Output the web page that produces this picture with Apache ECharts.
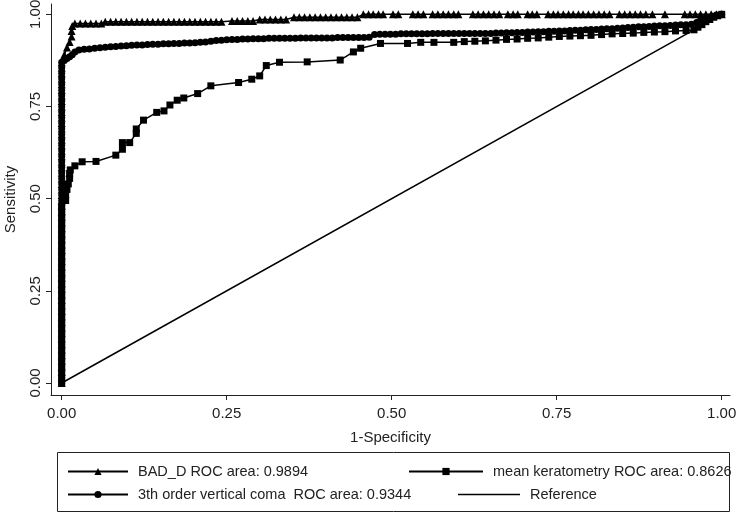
<!DOCTYPE html>
<html>
<head>
<meta charset="utf-8">
<script src="https://cdn.jsdelivr.net/npm/echarts@6/dist/echarts.min.js"></script>
<style>html,body{margin:0;padding:0;background:#fff}#c{width:737px;height:515px}</style>
</head>
<body>
<div id="c"></div>
<script>
// ---- data (1-Specificity, Sensitivity) ----
const tickValues = [0, 0.25, 0.5, 0.75, 1];
const seriesNames = [
  'BAD_D ROC area: 0.9894',
  '3th order vertical coma  ROC area: 0.9344',
  'mean keratometry ROC area: 0.8626',
  'Reference'
];
const badD = [
 [0,0],[0,0.015],[0,0.03],[0,0.045],[0,0.06],[0,0.075],[0,0.09],[0,0.105],[0,0.12],[0,0.135],[0,0.15],[0,0.165],[0,0.18],[0,0.195],[0,0.21],[0,0.225],[0,0.24],[0,0.255],[0,0.27],[0,0.285],[0,0.30],[0,0.315],[0,0.33],[0,0.345],[0,0.36],[0,0.375],[0,0.39],[0,0.405],[0,0.42],[0,0.435],[0,0.45],[0,0.465],[0,0.48],[0,0.495],[0,0.51],[0,0.525],[0,0.54],[0,0.555],[0,0.57],[0,0.585],[0,0.60],[0,0.615],[0,0.63],[0,0.645],[0,0.66],[0,0.675],[0,0.69],[0,0.705],[0,0.72],[0,0.735],[0,0.75],[0,0.765],[0,0.78],[0,0.795],[0,0.81],[0,0.825],[0,0.84],[0,0.855],[0,0.87],
 [0.004,0.89],[0.008,0.91],[0.012,0.925],[0.015,0.94],[0.015,0.955],[0.016,0.968],[0.020,0.975],
 [0.028,0.975],[0.036,0.975],[0.044,0.975],[0.052,0.975],[0.060,0.975],
 [0.066,0.980],[0.074,0.980],[0.082,0.980],[0.090,0.980],[0.098,0.980],[0.106,0.980],[0.114,0.980],[0.122,0.980],[0.130,0.980],[0.138,0.980],[0.146,0.980],[0.154,0.980],[0.162,0.980],[0.170,0.980],[0.178,0.980],[0.186,0.980],[0.194,0.980],[0.202,0.980],[0.210,0.980],[0.218,0.980],[0.226,0.980],[0.234,0.980],[0.242,0.980],
 [0.258,0.982],[0.266,0.982],[0.274,0.982],[0.282,0.982],[0.290,0.982],
 [0.300,0.986],[0.308,0.986],[0.316,0.986],[0.324,0.986],[0.332,0.986],[0.340,0.986],
 [0.352,0.992],[0.360,0.992],[0.368,0.992],[0.376,0.992],[0.384,0.992],[0.392,0.992],[0.400,0.992],[0.408,0.992],[0.416,0.992],[0.424,0.992],[0.432,0.992],[0.440,0.992],[0.448,0.992],
 [0.457,1],[0.465,1],[0.472,1],[0.480,1],[0.487,1],[0.502,1],[0.510,1],[0.532,1],[0.540,1],[0.548,1],[0.562,1],[0.570,1],[0.578,1],[0.586,1],[0.594,1],[0.601,1],[0.623,1],[0.631,1],[0.639,1],[0.647,1],[0.655,1],[0.663,1],[0.676,1],[0.684,1],[0.691,1],[0.706,1],[0.713,1],[0.720,1],[0.737,1],[0.745,1],[0.752,1],[0.760,1],[0.768,1],[0.775,1],[0.783,1],[0.790,1],[0.798,1],[0.806,1],[0.814,1],[0.822,1],[0.830,1],[0.845,1],[0.853,1],[0.861,1],[0.869,1],[0.877,1],[0.885,1],[0.895,1],[0.914,1],[0.944,1],[0.952,1],[0.960,1],[0.968,1],[0.976,1],[0.984,1],[0.992,1],[1,1]
];
const coma = [
 [0,0],[0,0.015],[0,0.03],[0,0.045],[0,0.06],[0,0.075],[0,0.09],[0,0.105],[0,0.12],[0,0.135],[0,0.15],[0,0.165],[0,0.18],[0,0.195],[0,0.21],[0,0.225],[0,0.24],[0,0.255],[0,0.27],[0,0.285],[0,0.30],[0,0.315],[0,0.33],[0,0.345],[0,0.36],[0,0.375],[0,0.39],[0,0.405],[0,0.42],[0,0.435],[0,0.45],[0,0.465],[0,0.48],[0,0.495],[0,0.51],[0,0.525],[0,0.54],[0,0.555],[0,0.57],[0,0.585],[0,0.60],[0,0.615],[0,0.63],[0,0.645],[0,0.66],[0,0.675],[0,0.69],[0,0.705],[0,0.72],[0,0.735],[0,0.75],[0,0.765],[0,0.78],[0,0.795],[0,0.81],[0,0.825],[0,0.84],[0,0.855],[0,0.87],
 [0.004,0.875],[0.008,0.88],[0.012,0.885],[0.016,0.89],[0.020,0.898],[0.026,0.903],[0.034,0.905],[0.042,0.906],[0.050,0.908],[0.058,0.909],[0.066,0.911],[0.074,0.912],[0.082,0.913],[0.090,0.914],[0.098,0.915],[0.106,0.916],[0.114,0.917],[0.122,0.917],[0.130,0.918],[0.138,0.919],[0.146,0.919],[0.154,0.920],[0.162,0.920],[0.170,0.921],[0.178,0.921],[0.186,0.922],[0.194,0.922],[0.202,0.923],[0.210,0.924],[0.218,0.925],[0.226,0.927],[0.234,0.929],[0.242,0.930],[0.250,0.931],[0.258,0.932],[0.266,0.932],[0.274,0.933],[0.282,0.933],[0.290,0.934],[0.298,0.934],[0.306,0.934],[0.314,0.935],[0.322,0.935],[0.330,0.935],[0.338,0.935],[0.346,0.935],[0.354,0.935],[0.362,0.936],[0.370,0.936],[0.378,0.936],[0.386,0.936],[0.394,0.936],[0.402,0.936],[0.410,0.936],[0.418,0.937],[0.426,0.937],[0.434,0.937],[0.442,0.937],[0.450,0.937],[0.458,0.937],[0.466,0.938],[0.474,0.945],[0.482,0.946],[0.490,0.946],[0.498,0.946],[0.506,0.946],[0.514,0.947],[0.522,0.947],[0.530,0.947],[0.538,0.947],[0.546,0.947],[0.554,0.947],[0.562,0.948],[0.570,0.948],[0.578,0.948],[0.586,0.948],[0.594,0.948],[0.602,0.948],[0.610,0.948],[0.618,0.948],[0.626,0.948],[0.634,0.948],[0.642,0.948],[0.650,0.948],[0.658,0.949],[0.666,0.949],[0.674,0.950],[0.682,0.950],[0.690,0.951],[0.698,0.951],[0.706,0.952],[0.714,0.952],[0.722,0.953],[0.730,0.953],[0.738,0.954],[0.746,0.954],[0.754,0.955],[0.762,0.955],[0.770,0.956],[0.778,0.957],[0.786,0.957],[0.794,0.958],[0.802,0.959],[0.810,0.959],[0.818,0.960],[0.826,0.961],[0.834,0.961],[0.842,0.962],[0.850,0.963],[0.858,0.964],[0.866,0.965],[0.874,0.966],[0.882,0.966],[0.890,0.967],[0.898,0.968],[0.906,0.969],[0.914,0.969],[0.922,0.970],[0.930,0.971],[0.938,0.972],[0.946,0.972],[0.954,0.973],[0.962,0.978],[0.968,0.983],[0.974,0.988],[0.980,0.992],[0.986,0.995],[0.992,0.998],[1,1]
];
const kerat = [
 [0,0],[0,0.015],[0,0.03],[0,0.045],[0,0.06],[0,0.075],[0,0.09],[0,0.105],[0,0.12],[0,0.135],[0,0.15],[0,0.165],[0,0.18],[0,0.195],[0,0.21],[0,0.225],[0,0.24],[0,0.255],[0,0.27],[0,0.285],[0,0.30],[0,0.315],[0,0.33],[0,0.345],[0,0.36],[0,0.375],[0,0.39],[0,0.405],[0,0.42],[0,0.435],[0,0.45],[0,0.465],[0,0.48],
 [0.006,0.495],[0.006,0.51],[0.008,0.525],[0.010,0.54],[0.012,0.555],[0.012,0.568],[0.013,0.578],[0.020,0.589],[0.031,0.600],[0.052,0.601],[0.082,0.618],[0.092,0.634],[0.092,0.652],[0.103,0.652],[0.113,0.677],[0.113,0.689],[0.124,0.713],[0.144,0.734],[0.155,0.738],[0.164,0.754],[0.175,0.767],[0.185,0.773],[0.206,0.785],[0.226,0.806],[0.268,0.815],[0.288,0.824],[0.300,0.833],[0.310,0.861],[0.330,0.870],[0.372,0.871],[0.422,0.876],[0.442,0.898],[0.453,0.908],[0.483,0.921],[0.524,0.921],[0.544,0.924],[0.564,0.924],[0.594,0.924],[0.610,0.926],[0.626,0.927],[0.642,0.928],[0.658,0.930],[0.674,0.932],[0.690,0.933],[0.706,0.935],[0.722,0.936],[0.738,0.938],[0.754,0.940],[0.770,0.941],[0.786,0.942],[0.802,0.943],[0.818,0.945],[0.834,0.947],[0.850,0.948],[0.866,0.949],[0.882,0.951],[0.898,0.952],[0.914,0.953],[0.930,0.955],[0.946,0.956],[0.958,0.958],[0.964,0.965],[0.970,0.972],[0.976,0.980],[0.982,0.986],[0.988,0.992],[0.994,0.996],[1,1]
];
const reference = [[0,0],[1,1]];

const FONT = 'Liberation Sans, Arial, sans-serif';
const TXT = '#222';
const chart = echarts.init(document.getElementById('c'), null, {renderer:'canvas'});

function lineSeries(name, data, symbol, size) {
  return {
    name, type:'line', data, symbol, symbolSize: size,
    showSymbol: symbol !== 'none', clip:false,
    itemStyle:{color:'#000'}, lineStyle:{color:'#000', width:1.5},
    emphasis:{disabled:true}, animation:false
  };
}
function legendAt(name, left, top, w, h, icon) {
  return {
    data:[icon ? {name, icon} : name], left, top, padding:0,
    itemWidth:w, itemHeight:h,
    textStyle:{fontSize:14.5, color:TXT, fontFamily:FONT, padding:[0,0,0,5]},
    selectedMode:false
  };
}

chart.setOption({
  animation:false,
  backgroundColor:'#fff',
  textStyle:{fontFamily:FONT},
  grid:{left:51, right:7, top:4, bottom:120, containLabel:false, outerBoundsMode:'none'},
  xAxis:{
    type:'value', min:-0.0162, max:1.0126,
    axisLine:{show:true, onZero:false, lineStyle:{color:TXT, width:1}},
    axisTick:{show:true, length:5, customValues:tickValues, lineStyle:{color:TXT}},
    axisLabel:{customValues:tickValues, formatter:v=>v.toFixed(2), fontSize:15, color:TXT, margin:11, fontFamily:FONT},
    splitLine:{show:false},
    name:'1-Specificity', nameLocation:'middle', nameGap:35,
    nameTextStyle:{fontSize:15, color:TXT, fontFamily:FONT}
  },
  yAxis:{
    type:'value', min:-0.0326, max:1.028,
    axisLine:{show:true, onZero:false, lineStyle:{color:TXT, width:1}},
    axisTick:{show:true, length:5, customValues:tickValues, lineStyle:{color:TXT}},
    axisLabel:{customValues:tickValues, formatter:v=>v.toFixed(2), fontSize:15, color:TXT, margin:8, rotate:90, fontFamily:FONT},
    splitLine:{show:false},
    name:'Sensitivity', nameLocation:'middle', nameGap:33,
    nameTextStyle:{fontSize:15, color:TXT, fontFamily:FONT}
  },
  legend:[
    legendAt(seriesNames[0], 67, 464, 60, 9),
    legendAt(seriesNames[1], 67, 487, 60, 9),
    legendAt(seriesNames[2], 408, 464, 74, 9),
    legendAt(seriesNames[3], 458, 487, 62, 1.5, 'rect')
  ],
  graphic:[{type:'rect', shape:{x:57.5, y:452.5, width:672, height:59}, style:{fill:'none', stroke:TXT, lineWidth:1}, silent:true}],
  series:[
    lineSeries(seriesNames[3], reference, 'none', 0),
    lineSeries(seriesNames[2], kerat, 'rect', 7),
    lineSeries(seriesNames[1], coma, 'circle', 7),
    lineSeries(seriesNames[0], badD, 'triangle', 8)
  ]
});
</script>
</body>
</html>
